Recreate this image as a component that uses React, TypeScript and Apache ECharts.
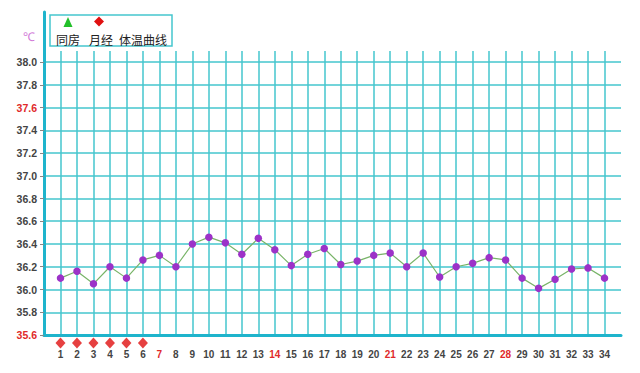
import React, { useEffect, useRef } from "react";
import * as echarts from "echarts";

const dayLabels: string[] = ["1","2","3","4","5","6","7","8","9","10","11","12","13","14","15","16","17","18","19","20","21","22","23","24","25","26","27","28","29","30","31","32","33","34"];
const temperatures: number[] = [36.10,36.16,36.05,36.20,36.10,36.26,36.30,36.20,36.40,36.46,36.41,36.31,36.45,36.35,36.21,36.31,36.36,36.22,36.25,36.30,36.32,36.20,36.32,36.11,36.20,36.23,36.28,36.26,36.10,36.01,36.09,36.18,36.19,36.10];
const periodDays: string[] = ["1","2","3","4","5","6"];
const redDayLabels: string[] = ["7","14","21","28"];
const redTempLabels: number[] = [37.6, 35.6];
const legendNames: string[] = ["同房", "月经", "体温曲线"];
const unitName = "℃";

const TEAL = "#45c6ce";
const AXIS = "#1eb4cc";
const RED = "#e02a2a";
const FONT = "'Liberation Sans', Arial, sans-serif";
const CJK = "'Noto Sans CJK SC', sans-serif";

export default function App() {
  const ref = useRef<HTMLDivElement>(null);
  useEffect(() => {
    if (!ref.current) return;
    const chart = echarts.init(ref.current, undefined, { renderer: "svg" });
    const categories = ["", ...dayLabels, " "];
    const lineData: (number | string)[] = ["-", ...temperatures, "-"];
    const periodData: (number | string)[] = categories.map((c) => (periodDays.includes(c) ? 1 : "-"));
    const dayLine = (idx: number) => idx >= 1 && idx <= dayLabels.length;
    const L = 44, R = 19;

    chart.setOption({
      animation: false,
      backgroundColor: "#ffffff",
      grid: [
        { left: L, right: R, top: 62, bottom: 38 },
        { left: L, right: R, top: 12, height: 50 },
        { left: L, right: R, top: 51, height: 11 },
        { left: L, right: R, top: 338, height: 10 },
      ],
      xAxis: [
        {
          gridIndex: 0,
          type: "category",
          data: categories,
          boundaryGap: false,
          axisLine: { show: true, lineStyle: { color: AXIS, width: 3 } },
          axisTick: { show: false },
          axisLabel: {
            interval: (idx: number) => dayLine(idx),
            margin: 14,
            fontSize: 10,
            fontFamily: FONT,
            fontWeight: "bold",
            formatter: (v: string) => (redDayLabels.includes(v) ? `{r|${v}}` : `{n|${v}}`),
            rich: {
              r: { color: RED, fontSize: 10, fontFamily: FONT, fontWeight: "bold" },
              n: { color: "#444", fontSize: 10, fontFamily: FONT, fontWeight: "bold" },
            },
          },
          splitLine: { show: true, interval: (idx: number) => dayLine(idx), lineStyle: { color: TEAL, width: 1.5 } },
        },
        { gridIndex: 1, type: "category", data: categories, boundaryGap: false, show: false },
        {
          gridIndex: 2,
          type: "category",
          data: categories,
          boundaryGap: false,
          axisLine: { show: false },
          axisTick: { show: false },
          axisLabel: { show: false },
          splitLine: { show: true, interval: (idx: number) => dayLine(idx), lineStyle: { color: TEAL, width: 1.5 } },
        },
        { gridIndex: 3, type: "category", data: categories, boundaryGap: false, show: false },
      ],
      yAxis: [
        {
          gridIndex: 0,
          type: "value",
          min: 35.6,
          max: 38.0,
          interval: 0.2,
          axisLine: { show: true, lineStyle: { color: AXIS, width: 3 } },
          axisTick: { show: true, length: 4, lineStyle: { color: "#888", width: 1 } },
          axisLabel: {
            margin: 7,
            formatter: (v: number) => {
              const s = v.toFixed(1);
              return redTempLabels.some((t) => Math.abs(t - v) < 1e-6) ? `{r|${s}}` : `{n|${s}}`;
            },
            rich: {
              r: { color: RED, fontSize: 10.5, fontFamily: FONT, fontWeight: "bold" },
              n: { color: "#444", fontSize: 10.5, fontFamily: FONT, fontWeight: "bold" },
            },
          },
          splitLine: { show: true, lineStyle: { color: TEAL, width: 1.5 } },
        },
        {
          gridIndex: 1,
          type: "value",
          min: 0,
          max: 1,
          name: unitName,
          nameLocation: "middle",
          nameRotate: 0,
          nameGap: 9,
          nameTextStyle: { color: "#d27ad8", fontSize: 12, fontFamily: FONT },
          axisLine: { show: true, lineStyle: { color: AXIS, width: 3 } },
          axisTick: { show: false },
          axisLabel: { show: false },
          splitLine: { show: false },
        },
        { gridIndex: 2, type: "value", min: 0, max: 1, show: false },
        { gridIndex: 3, type: "value", min: 0, max: 2, show: false },
      ],
      series: [
        {
          name: legendNames[2],
          type: "line",
          xAxisIndex: 0,
          yAxisIndex: 0,
          data: lineData,
          symbol: "circle",
          symbolSize: 7.5,
          itemStyle: { color: "#9c32c8" },
          lineStyle: { color: "#78b468", width: 1.2 },
          z: 5,
        },
        {
          name: legendNames[1],
          type: "scatter",
          xAxisIndex: 3,
          yAxisIndex: 3,
          data: periodData,
          symbol: "diamond",
          symbolSize: [10, 11],
          itemStyle: { color: "#e01010" },
        },
      ],
      graphic: [
        {
          type: "group",
          children: [
            { type: "rect", shape: { x: 50, y: 15, width: 122, height: 31 }, style: { fill: "#fff", stroke: TEAL, lineWidth: 1.5 } },
            { type: "polygon", shape: { points: [[68, 17], [63.5, 27], [72.5, 27]] }, style: { fill: "#22c02a" } },
            { type: "polygon", shape: { points: [[99, 16.5], [104, 21.5], [99, 26.5], [94, 21.5]] }, style: { fill: "#e01010" } },
            { type: "text", x: 56, y: 39, style: { text: legendNames[0], fill: "#222", font: `12px ${CJK}`, verticalAlign: "middle" } },
            { type: "text", x: 89, y: 39, style: { text: legendNames[1], fill: "#222", font: `12px ${CJK}`, verticalAlign: "middle" } },
            { type: "text", x: 119, y: 39, style: { text: legendNames[2], fill: "#222", font: `12px ${CJK}`, verticalAlign: "middle" } },
          ],
        },
      ],
    });
    return () => chart.dispose();
  }, []);
  return <div ref={ref} style={{ position: "absolute", left: 0, top: 0, width: 640, height: 373 }} />;
}
